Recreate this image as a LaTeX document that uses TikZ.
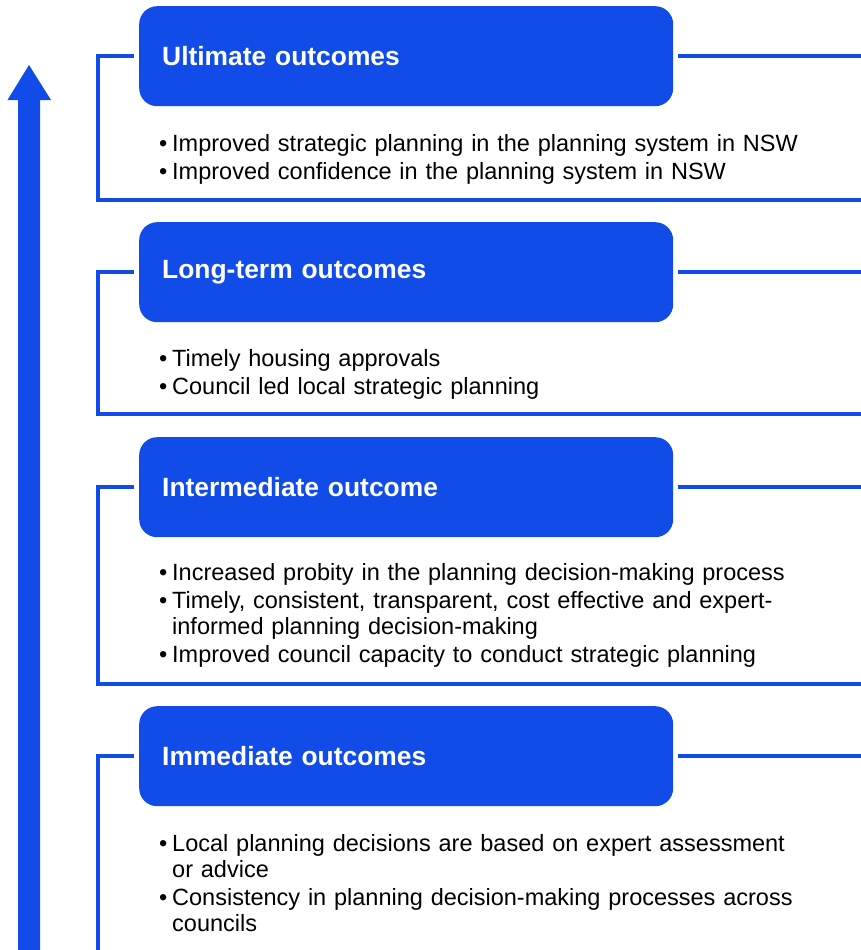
\documentclass[tikz,border=0pt]{standalone}
\usepackage{fontspec}
\setmainfont{Liberation Sans}
\usepackage{tikz}
\usetikzlibrary{positioning}

\definecolor{nswblue}{RGB}{17,76,232}
\newcommand{\bul}{\makebox[13pt][l]{\textbullet}}
\newcommand{\bulind}{\hspace*{13pt}}

\begin{document}
\begin{tikzpicture}[x=1pt, y=-1pt, line join=miter,
    stage node/.style={fill=nswblue, rounded corners=18pt, anchor=north west, minimum width=534pt, minimum height=100pt, text width=488pt, inner xsep=23pt, align=left, text=white, font=\fontsize{26.4}{30}\selectfont\bfseries},
    list node/.style={anchor=base west, inner sep=0pt, text width=700pt, align=left, font=\fontsize{23.5}{26}\selectfont},
    bracket/.style={draw=nswblue, line width=4.5pt}]
        \useasboundingbox (0,0) rectangle (861,950);

        % Stage boxes
        \node[stage node] (ult) at (139,6) {Ultimate outcomes};
        \node[stage node] (long) at (139,222) {Long-term outcomes};
        \node[stage node] (inter) at (139,437) {Intermediate outcome};
        \node[stage node] (imm) at (139,706) {Immediate outcomes};

        % Outcome lists
        \node[list node] (ultlist) at (159,151) {\bul Improved strategic planning in the planning system in NSW\\[2pt]
            \bul Improved confidence in the planning system in NSW};
        \node[list node] (longlist) at (159,366) {\bul Timely housing approvals\\[2pt]
            \bul Council led local strategic planning};
        \node[list node] (interlist) at (159,580) {\bul Increased probity in the planning decision-making process\\[2pt]
            \bul Timely, consistent, transparent, cost effective and expert-\\
            \bulind informed planning decision-making\\[2pt]
            \bul Improved council capacity to conduct strategic planning};
        \node[list node] (immlist) at (159,851) {\bul Local planning decisions are based on expert assessment\\
            \bulind or advice\\[2pt]
            \bul Consistency in planning decision-making processes across\\
            \bulind councils};

        % Bracket corners and page edge
        \coordinate (edge) at (861,0);
        \coordinate (ultend) at (98,200);
        \coordinate (longend) at (98,414);
        \coordinate (interend) at (98,684);
        \coordinate (immend) at (98,955);

        % Brackets round each stage
        \draw[bracket] ([xshift=-5pt]ult.west) -| (ultend) -- (ultend -| edge);
        \draw[bracket] ([xshift=5pt]ult.east) -- (ult.east -| edge);
        \draw[bracket] ([xshift=-5pt]long.west) -| (longend) -- (longend -| edge);
        \draw[bracket] ([xshift=5pt]long.east) -- (long.east -| edge);
        \draw[bracket] ([xshift=-5pt]inter.west) -| (interend) -- (interend -| edge);
        \draw[bracket] ([xshift=5pt]inter.east) -- (inter.east -| edge);
        \draw[bracket] ([xshift=-5pt]imm.west) -| (immend);
        \draw[bracket] ([xshift=5pt]imm.east) -- (imm.east -| edge);

        % Upward arrow
        \fill[nswblue] (18,955) -- (18,100) -- (7.5,100) -- (29,65) -- (51,100) -- (40,100) -- (40,955) -- cycle;
    \end{tikzpicture}
\end{document}
